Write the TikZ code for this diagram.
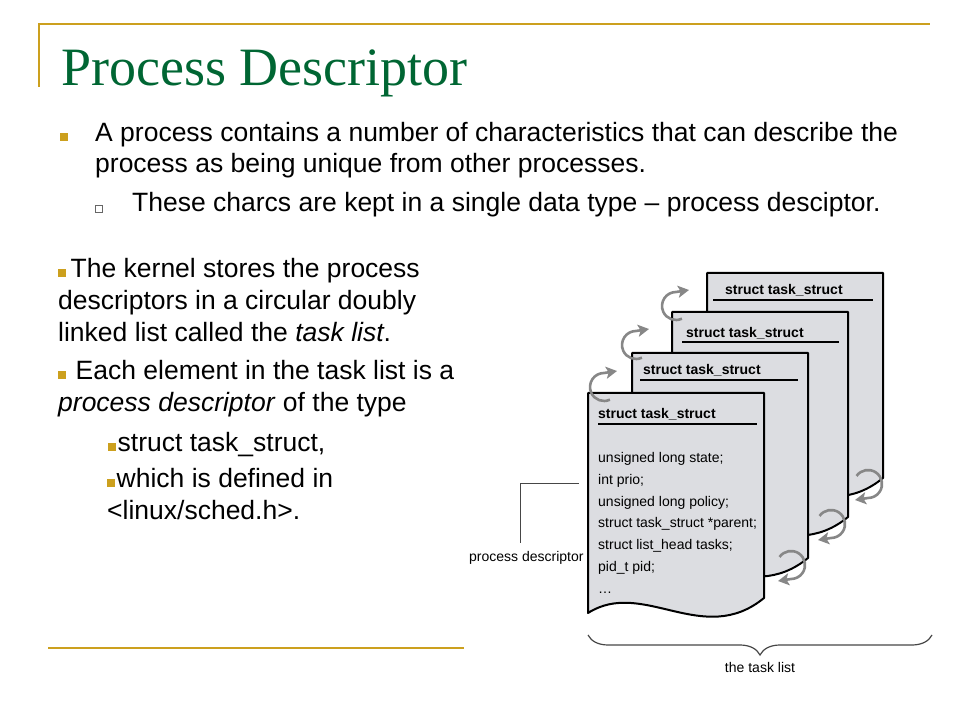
\documentclass[tikz,border=0pt]{standalone}
\usepackage{fontspec}
\setmainfont{Liberation Sans}
\newfontfamily\titlefont{Liberation Serif}
\usetikzlibrary{decorations.pathreplacing,arrows.meta}
\definecolor{gold}{RGB}{204,160,30}
\definecolor{titlegreen}{RGB}{0,102,51}
\definecolor{pagegray}{RGB}{220,221,225}
\definecolor{arrowgray}{RGB}{135,135,135}
\definecolor{leadergray}{RGB}{70,70,70}
\newcommand{\goldsq}{{\color{gold}\rule[1pt]{7.5pt}{7.5pt}}}
\begin{document}
\begin{tikzpicture}[x=1pt,y=1pt,
	txt/.style={anchor=base west,inner sep=0pt,align=left},
	bigtxt/.style={txt,font=\fontsize{26.5}{31}\selectfont},
	coltxt/.style={txt,font=\fontsize{26.5}{32}\selectfont},
	smalltxt/.style={txt,font=\fontsize{14}{21.7}\selectfont},
	headtxt/.style={txt,font=\bfseries\fontsize{14}{16}\selectfont},
	pagebox/.style={draw=black,line width=2pt,fill=pagegray,line join=round},
	circarrow/.style={draw=arrowgray,line width=2.6pt,-{Stealth[length=11pt,width=12pt,inset=2.5pt]}}]
					\useasboundingbox (0,0) rectangle (960,720);
					\draw[gold,line width=2pt] (39,633)--(39,696)--(930,696);
					\draw[gold,line width=2pt] (48,72)--(464,72);
					\draw (61,634) node[txt,text=titlegreen,font=\titlefont\fontsize{54}{60}\selectfont] (title) {Process Descriptor};
					\draw (64,582.5) node[fill=gold,inner sep=0pt,minimum size=8pt] (dot1) {};
					\draw (95,547) node[bigtxt] (point1) {A process contains a number of characteristics that can describe the\\process as being unique from other processes.};
					\draw (99,511) node[draw=black!60,fill=white,line width=0.8pt,inner sep=0pt,minimum size=6.5pt] (dot2) {};
					\draw (132,508) node[bigtxt] (point2) {These charcs are kept in a single data type – process desciptor.};
					\draw (58,378) node[coltxt] (kernel) {\goldsq\hspace{5pt}The kernel stores the process\\descriptors in a circular doubly\\linked list called the \textit{task list}.};
					\draw (58,308) node[coltxt] (element) {\goldsq\hspace{10pt}Each element in the task list is a\\\textit{process descriptor} of the type};
					\draw (108,268) node[coltxt] (type) {\goldsq\hspace{2pt}struct task\_struct,};
					\draw (107,200) node[coltxt] (defined) {\goldsq\hspace{2pt}which is defined in\\<linux/sched.h>.};
					\draw[pagebox] (707,447)--(883,447)--(883,242) .. controls (822,192) and (762,262) .. (707,227)--cycle;
					\draw (725,425) node[headtxt] (head4) {struct task\_struct};
					\draw[line width=2pt] (713,420)--(873,420);
					\draw[pagebox] (672,408)--(848,408)--(848,203) .. controls (787,153) and (727,223) .. (672,188)--cycle;
					\draw (686,382) node[headtxt] (head3) {struct task\_struct};
					\draw[line width=2pt] (682,378)--(839,378);
					\draw[pagebox] (632,367)--(808,367)--(808,162) .. controls (747,112) and (687,182) .. (632,147)--cycle;
					\draw (643,345) node[headtxt] (head2) {struct task\_struct};
					\draw[line width=2pt] (640,340)--(798,340);
					\draw[pagebox] (588,327)--(764,327)--(764,122) .. controls (703,72) and (643,142) .. (588,107)--cycle;
					\draw (598,301) node[headtxt] (head1) {struct task\_struct};
					\draw[line width=2pt] (598,296)--(757,296);
					\draw (598,127) node[smalltxt] (fields) {unsigned long state;\\int prio;\\unsigned long policy;\\struct task\_struct *parent;\\struct list\_head tasks;\\pid\_t pid;\\…};
					\draw[circarrow] (604,333) ++(-65:14) arc[start angle=-65,end angle=-270,radius=14] -- ++(13,2);
					\draw[circarrow] (636,375) ++(-65:14) arc[start angle=-65,end angle=-270,radius=14] -- ++(13,2);
					\draw[circarrow] (676,414) ++(-65:14) arc[start angle=-65,end angle=-270,radius=14] -- ++(13,2);
					\draw[circarrow] (791,155) ++(145:14) arc[start angle=145,end angle=-90,radius=14] -- ++(-13,-2);
					\draw[circarrow] (831,196) ++(145:14) arc[start angle=145,end angle=-90,radius=14] -- ++(-13,-2);
					\draw[circarrow] (868,236) ++(145:14) arc[start angle=145,end angle=-90,radius=14] -- ++(-13,-2);
					\draw (469,158) node[txt,font=\fontsize{14}{16}\selectfont] (pd) {process descriptor};
					\coordinate (pdend) at (579,236);
					\draw[leadergray,line width=1pt] ([xshift=-6pt,yshift=9pt]pd.north) |- (pdend);
					\coordinate (listL) at (588,85);
					\coordinate (listR) at (932,85);
					\draw[leadergray,line width=1.2pt,decorate,decoration={brace,mirror,amplitude=20pt}] (listL)--(listR);
					\draw (760,48) node[anchor=base,inner sep=0pt,font=\fontsize{14}{16}\selectfont] (tasklist) {the task list};
\end{tikzpicture}
\end{document}
